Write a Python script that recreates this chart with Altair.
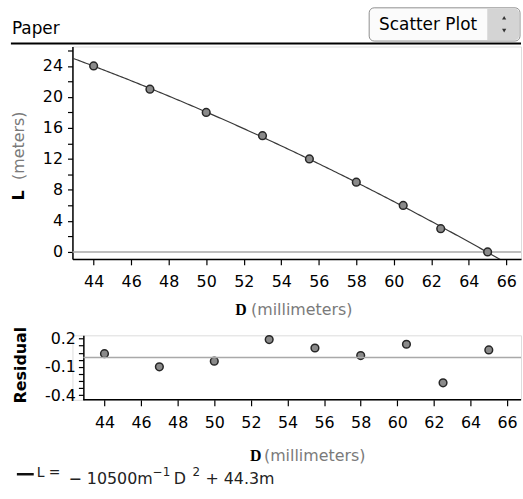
import altair as alt
import numpy as np
import pandas as pd

# Measurements: disc diameter D (mm) and length L (m)
diameter_mm = [44, 47, 50, 53, 55.5, 58, 60.5, 62.5, 65]
length_m = [24, 21, 18, 15, 12, 9, 6, 3, 0]
residuals = [0.04, -0.1, -0.04, 0.19, 0.1, 0.02, 0.14, -0.27, 0.08]

# Fitted model  L = -10500 m^-1 * D^2 + 44.3 m   (D in metres)
coef_a = -10500.0
coef_b = 44.3

x_ticks = list(range(44, 67, 2))
y_ticks = list(range(0, 27, 2))
res_ticks = [0.2, 0.125, 0.05, -0.025, -0.1, -0.175, -0.25, -0.325, -0.4]

FONT = "DejaVu Sans"
W = 452
H_TOP = 214
H_BOT = 65

points = pd.DataFrame({"D": diameter_mm, "L": length_m, "R": residuals})
d_grid = np.linspace(42.87, 66.78, 200)
fit = pd.DataFrame({"D": d_grid, "L": coef_a * (d_grid / 1000.0) ** 2 + coef_b})
zero_top_df = pd.DataFrame({"L": [0.0]})
zero_bot_df = pd.DataFrame({"R": [0.0]})

x_top = alt.Scale(domain=[42.87, 66.78], nice=False, zero=False)
y_top = alt.Scale(domain=[-0.9, 26.5], nice=False, zero=False)
x_bot = alt.Scale(domain=[42.25, 66.76], nice=False, zero=False)
y_bot = alt.Scale(domain=[-0.45, 0.235], nice=False, zero=False)

axis_style = dict(
    title=None, grid=False, labelFont=FONT, labelFontSize=16, labelColor="black",
    domainColor="black", domainWidth=1.5, tickColor="black", tickWidth=1.2,
    labelOverlap=False, labelBound=False, labelFlush=False,
)

x_axis_top = alt.Axis(values=x_ticks, tickSize=6, labelPadding=9, **axis_style)
y_axis_top = alt.Axis(values=y_ticks, tickSize=5, labelPadding=5,
                      labelExpr="datum.value % 4 == 0 ? toString(datum.value) : ''",
                      **axis_style)
x_axis_bot = alt.Axis(values=x_ticks, tickSize=6, labelPadding=9, domain=False, **axis_style)
y_axis_bot = alt.Axis(values=res_ticks, tickSize=5, labelPadding=3, offset=-11,
                      labelExpr="abs(datum.value*10 - round(datum.value*10)) < 0.001 ? toString(datum.value) : ''",
                      **axis_style)

xa_top = alt.X("D:Q", scale=x_top, axis=x_axis_top)
ya_top = alt.Y("L:Q", scale=y_top, axis=y_axis_top)
xa_bot = alt.X("D:Q", scale=x_bot, axis=x_axis_bot)
ya_bot = alt.Y("R:Q", scale=y_bot, axis=y_axis_bot)


def label(text, x, y, size=16, color="black", weight="normal", font=FONT,
          angle=0, align="left", baseline="middle"):
    return alt.Chart(alt.Data(values=[{"t": 1}])).mark_text(
        text=text, font=font, fontSize=size, color=color, fontWeight=weight,
        angle=angle, align=align, baseline=baseline,
    ).encode(x=alt.value(x), y=alt.value(y))


def rule(x, x2, y, color="black", width=1.5):
    return alt.Chart(alt.Data(values=[{"t": 1}])).mark_rule(
        color=color, strokeWidth=width
    ).encode(x=alt.value(x), x2=alt.value(x2), y=alt.value(y))


# ---------- upper panel: L against D ----------
fit_line = alt.Chart(fit).mark_line(clip=True, color="#3a3a3a", strokeWidth=1.2).encode(
    x=xa_top, y=ya_top)
zero_top = alt.Chart(zero_top_df).mark_rule(color="#a9a9a9", strokeWidth=1.5).encode(
    y=ya_top)
dots_top = alt.Chart(points).mark_circle(
    size=60, color="#8a8a8a", stroke="#262626", strokeWidth=1.5, opacity=1
).encode(x=xa_top, y=ya_top)

button = alt.Chart(alt.Data(values=[{"t": 1}])).mark_rect(
    cornerRadius=5, fill="#fbfbfb", stroke="#8f8f8f", strokeWidth=1
).encode(x=alt.value(299), x2=alt.value(451), y=alt.value(-39), y2=alt.value(-5.5))
spinner = alt.Chart(alt.Data(values=[{"t": 1}])).mark_rect(
    cornerRadiusTopRight=4, cornerRadiusBottomRight=4, fill="#d4d4d4"
).encode(x=alt.value(418), x2=alt.value(450), y=alt.value(-38), y2=alt.value(-6.5))
arrow_up = alt.Chart(alt.Data(values=[{"t": 1}])).mark_point(
    shape="triangle-up", filled=True, size=18, color="#333333", opacity=1
).encode(x=alt.value(435), y=alt.value(-29))
arrow_dn = alt.Chart(alt.Data(values=[{"t": 1}])).mark_point(
    shape="triangle-down", filled=True, size=18, color="#333333", opacity=1
).encode(x=alt.value(435), y=alt.value(-16))

top = alt.layer(
    fit_line, zero_top, dots_top,
    rule(-62, W, -3, width=2),
    label("Paper", -61, -18, size=17),
    button, spinner, arrow_up, arrow_dn,
    label("Scatter Plot", 309, -22, size=17),
    label("D", 164, 266, size=16, weight="bold", font="Liberation Serif"),
    label("(millimeters)", 180, 266, size=16, color="#7a7a7a"),
    label("L", -54, 150, size=16, weight="bold", angle=270, align="center"),
    label("(meters)", -54, 100, size=16, color="#7a7a7a", angle=270, align="center"),
).properties(width=W, height=H_TOP)

# ---------- lower panel: residuals ----------
dots_bot = alt.Chart(points).mark_circle(
    size=60, color="#8a8a8a", stroke="#262626", strokeWidth=1.5, opacity=1
).encode(x=xa_bot, y=ya_bot)
zero_bot = alt.Chart(zero_bot_df).mark_rule(color="#a9a9a9", strokeWidth=1.5).encode(
    y=ya_bot, x=alt.value(11), x2=alt.value(W))

eq_y = 150
bottom = alt.layer(
    dots_bot, zero_bot,
    rule(11, W, H_BOT),
    label("Residual", -52, 30, size=16, weight="bold", angle=270, align="center"),
    label("D", 179, 122, size=16, weight="bold", font="Liberation Serif"),
    label("(millimeters)", 193, 122, size=16, color="#7a7a7a"),
    rule(-56, -39, 140, color="#111111", width=2.5),
    label("L =", -36, 143, size=14, color="#222222", baseline="alphabetic"),
    label("\u2212 10500m", -4, eq_y, size=16, color="#222222", baseline="alphabetic"),
    label("\u22121", 81, eq_y - 8, size=12, color="#222222", baseline="alphabetic"),
    label("D", 102, eq_y, size=16, color="#222222", baseline="alphabetic"),
    label("2", 121, eq_y - 8, size=12, color="#222222", baseline="alphabetic"),
    label("+ 44.3m", 134, eq_y, size=16, color="#222222", baseline="alphabetic"),
).properties(width=W, height=H_BOT)

chart = alt.vconcat(top, bottom, spacing=77, bounds="flush").properties(
    padding={"left": 9, "top": 5, "right": 0, "bottom": 0}
).configure_view(stroke=None).configure_axis(labelOverlap=False).configure(background="white")

chart.save("out.html", embed_options={"renderer": "svg", "actions": False})
